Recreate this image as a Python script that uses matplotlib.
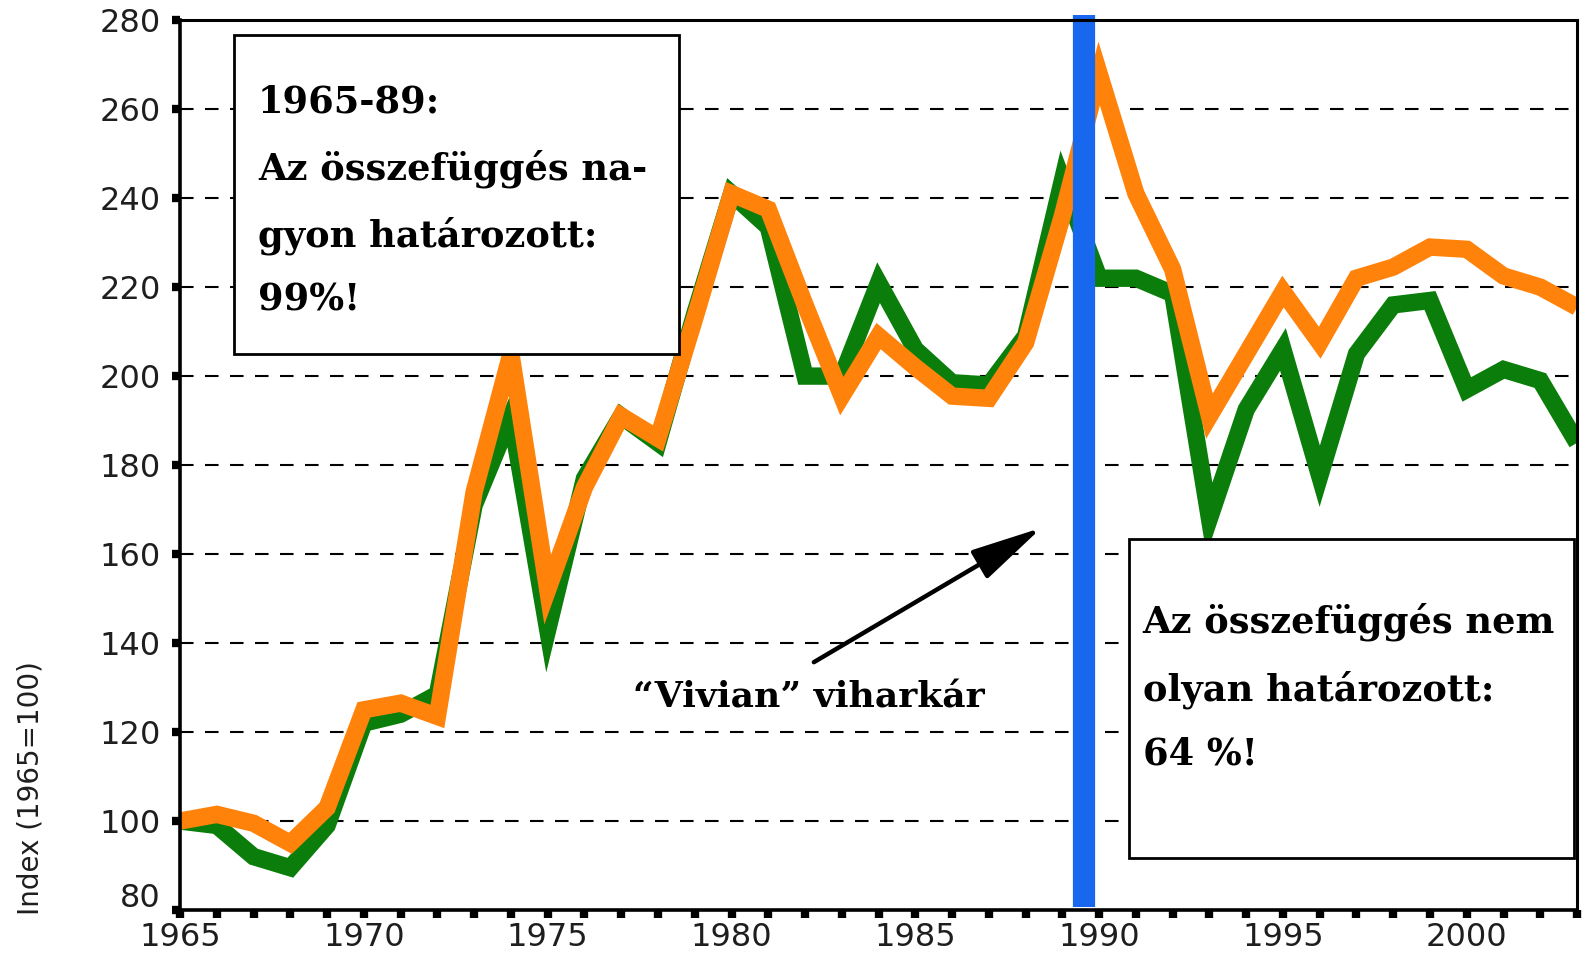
import matplotlib
matplotlib.use("Agg")
import matplotlib.pyplot as plt
import matplotlib.transforms as mtransforms
from matplotlib.patches import Rectangle
from matplotlib.ticker import MultipleLocator


YEARS = list(range(1965, 2004))

GREEN_SERIES = [
    100, 99, 92, 89.5, 99, 122, 124, 128.5, 171, 191,
    143, 177, 191, 185, 214, 241, 233.5, 200, 200, 221,
    206, 198.5, 198, 209, 244, 222, 222, 218.5, 168, 192.5,
    206, 177.5, 205, 216, 217, 197, 201.5, 199, 185,
]

ORANGE_SERIES = [
    100, 101.5, 99.5, 95, 103, 125, 126.5, 123.5, 174, 205,
    152, 175, 191, 186, 213, 241, 237.5, 216, 195.5, 209,
    202, 195.5, 195, 207.5, 236, 268, 241, 224, 191, 205,
    219, 207.5, 222, 224.5, 229, 228.5, 222.5, 220, 215.5,
]

Y_TICKS = [80, 100, 120, 140, 160, 180, 200, 220, 240, 260, 280]
X_LABEL_TICKS = [1965, 1970, 1975, 1980, 1985, 1990, 1995, 2000]

BREAK_YEAR = 1989.6

LEFT_NOTE = "1965-89:\nAz összefüggés na-\ngyon határozott:\n99%!"
RIGHT_NOTE = "Az összefüggés nem\nolyan határozott:\n64 %!"
ARROW_NOTE = "\u201cVivian\u201d viharkár"

GREEN = "#0a7d0a"
ORANGE = "#ff820a"
BLUE = "#1768ee"


def main() -> None:
    fig = plt.figure(figsize=(15.85, 9.55), dpi=100)
    ax = fig.add_axes([0.1136, 0.0471, 0.995 - 0.1136, 0.9789 - 0.0471])

    ax.set_xlim(1965, 2003)
    ax.set_ylim(80, 280)

    # dashed horizontal grid
    for value in Y_TICKS[1:-1]:
        ax.axhline(value, color="black", linewidth=1.5, linestyle=(0, (6.5, 5.5)), zorder=1)

    ax.plot(YEARS, GREEN_SERIES, color=GREEN, linewidth=12.5,
            solid_joinstyle="miter", solid_capstyle="butt", zorder=3)
    ax.plot(YEARS, ORANGE_SERIES, color=ORANGE, linewidth=12.5,
            solid_joinstyle="miter", solid_capstyle="butt", zorder=4)

    ax.plot([BREAK_YEAR, BREAK_YEAR], [80.7, 281.1], color=BLUE, linewidth=16,
            solid_capstyle="butt", clip_on=False, zorder=6)

    # annotation boxes
    ax.add_patch(Rectangle((1966.48, 205.0), 12.1, 71.6, facecolor="white",
                           edgecolor="black", linewidth=2, zorder=5))
    ax.add_patch(Rectangle((1990.82, 91.8), 12.1, 71.6, facecolor="white",
                           edgecolor="black", linewidth=2, zorder=5))

    ax.text(1967.12, 239.3, LEFT_NOTE, ha="left", va="center", fontsize=26.5,
            family="DejaVu Serif", fontweight="bold", linespacing=1.97, zorder=7)
    ax.text(1991.18, 130.0, RIGHT_NOTE, ha="left", va="center", fontsize=26.5,
            family="DejaVu Serif", fontweight="bold", linespacing=1.97, zorder=7)

    ax.annotate("", xy=(1988.43, 165.9), xytext=(1982.24, 135.7),
                arrowprops=dict(arrowstyle="-|>,head_length=1.1,head_width=0.25",
                                color="black", lw=3.2, mutation_scale=40,
                                shrinkA=0, shrinkB=0),
                zorder=7)
    ax.text(1982.1, 127.7, ARROW_NOTE, ha="center", va="center", fontsize=26,
            family="DejaVu Serif", fontweight="bold", zorder=7)

    # axes styling
    for side in ("left", "bottom"):
        ax.spines[side].set_linewidth(2.6)
    for side in ("top", "right"):
        ax.spines[side].set_linewidth(2.2)
    for spine in ax.spines.values():
        spine.set_zorder(8)

    ax.set_yticks(Y_TICKS)
    ax.set_xticks(X_LABEL_TICKS)
    ax.xaxis.set_minor_locator(MultipleLocator(1))
    ax.tick_params(axis="both", which="both", direction="out", length=6, width=6,
                   color="black", labelcolor="#1e1e1e", labelsize=23)
    ax.tick_params(axis="y", pad=8)
    ax.tick_params(axis="x", pad=2.5)
    for label in ax.get_xticklabels() + ax.get_yticklabels():
        label.set_family("DejaVu Sans")

    # the bottom y label sits a little higher in the original
    shift = mtransforms.ScaledTranslation(0, 0.15, fig.dpi_scale_trans)
    bottom_label = ax.get_yticklabels()[0]
    bottom_label.set_transform(bottom_label.get_transform() + shift)

    fig.text(0.019, 0.175, "Index (1965=100)", rotation=90, ha="center", va="center",
             fontsize=20, family="DejaVu Sans", color="#1e1e1e")

    fig.savefig("out.png", dpi=100, facecolor="white")
    plt.close(fig)


if __name__ == "__main__":
    main()
